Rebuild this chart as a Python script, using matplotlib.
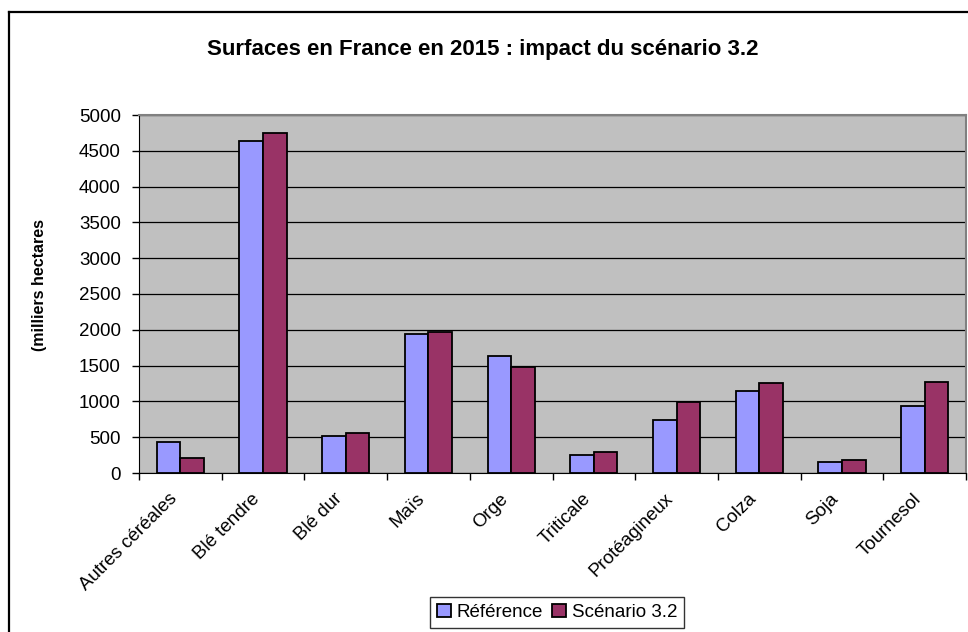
import numpy as np
import matplotlib.pyplot as plt

# données (milliers d'hectares)
categories = ['Autres céréales', 'Blé tendre', 'Blé dur', 'Maïs', 'Orge',
              'Triticale', 'Protéagineux', 'Colza', 'Soja', 'Tournesol']
reference = [430, 4635, 515, 1945, 1635, 250, 740, 1140, 160, 940]
scenario = [205, 4750, 565, 1965, 1475, 300, 985, 1255, 185, 1275]
series_names = ['Référence', 'Scénario 3.2']
yticks = [0, 500, 1000, 1500, 2000, 2500, 3000, 3500, 4000, 4500, 5000]

plt.rcParams['font.family'] = ['Liberation Sans', 'DejaVu Sans']

W, H = 968, 632
fig = plt.figure(figsize=(W / 100, H / 100), dpi=100)
fig.patch.set_facecolor('white')

# cadre extérieur (coupé à droite et en bas)
fig.add_artist(plt.Line2D([9 / W, 9 / W], [0, 1 - 12 / H], color='black', lw=1.6,
                          transform=fig.transFigure))
fig.add_artist(plt.Line2D([9 / W, 1], [1 - 12 / H, 1 - 12 / H], color='black', lw=1.6,
                          transform=fig.transFigure))

ax = fig.add_axes([139 / W, 1 - 473 / H, (966 - 139) / W, (473 - 115) / H])
ax.set_facecolor('#C0C0C0')

x = np.arange(len(categories))
w = 0.285
ax.bar(x - w / 2, reference, w, color='#9999FF', edgecolor='black', lw=1.3,
       label=series_names[0], zorder=3)
ax.bar(x + w / 2, scenario, w, color='#993366', edgecolor='black', lw=1.3,
       label=series_names[1], zorder=3)

ax.set_xlim(-0.5, len(categories) - 0.5)
ax.set_ylim(0, 5000)
ax.set_yticks(yticks)
ax.set_yticklabels([str(v) for v in yticks], fontsize=13.5)
ax.yaxis.grid(True, color='black', lw=0.9, zorder=1)
ax.set_axisbelow(True)

# libellés inclinés, ancrés en bas à droite pour les décaler vers la gauche
ax.set_xticks(x)
ax.set_xticklabels(categories, rotation=45, ha='right', va='bottom',
                   rotation_mode='anchor', fontsize=13.5)
ax.tick_params(axis='x', length=0, pad=21)
ax.set_xticks(np.arange(-0.5, len(categories)), minor=True)
ax.tick_params(axis='x', which='minor', length=5, color='black', width=1)
ax.tick_params(axis='y', length=5, color='black', width=1, pad=8)

for s in ['top', 'right']:
    ax.spines[s].set_color('#808080')
    ax.spines[s].set_linewidth(1.5)
ax.spines['left'].set_color('black')
ax.spines['bottom'].set_color('black')

fig.text(483 / W, 1 - 49 / H, 'Surfaces en France en 2015 : impact du scénario 3.2',
         ha='center', va='center', fontsize=16, fontweight='bold')

# étiquette de l'axe y, tronquée comme dans l'original
fig.text(40 / W, 1 - 351 / H, '(milliers hectares', rotation=90,
         ha='center', va='bottom', fontsize=11.5, fontweight='bold')

leg = fig.legend(loc='upper center', bbox_to_anchor=(557 / W, 1 - 597 / H), ncol=2,
                 fontsize=13.5, frameon=True, fancybox=False, edgecolor='black',
                 handlelength=0.75, handleheight=0.75, handletextpad=0.3,
                 columnspacing=0.5, borderpad=0.35, borderaxespad=0)
leg.get_frame().set_linewidth(1)

fig.savefig('out.png', dpi=100)
